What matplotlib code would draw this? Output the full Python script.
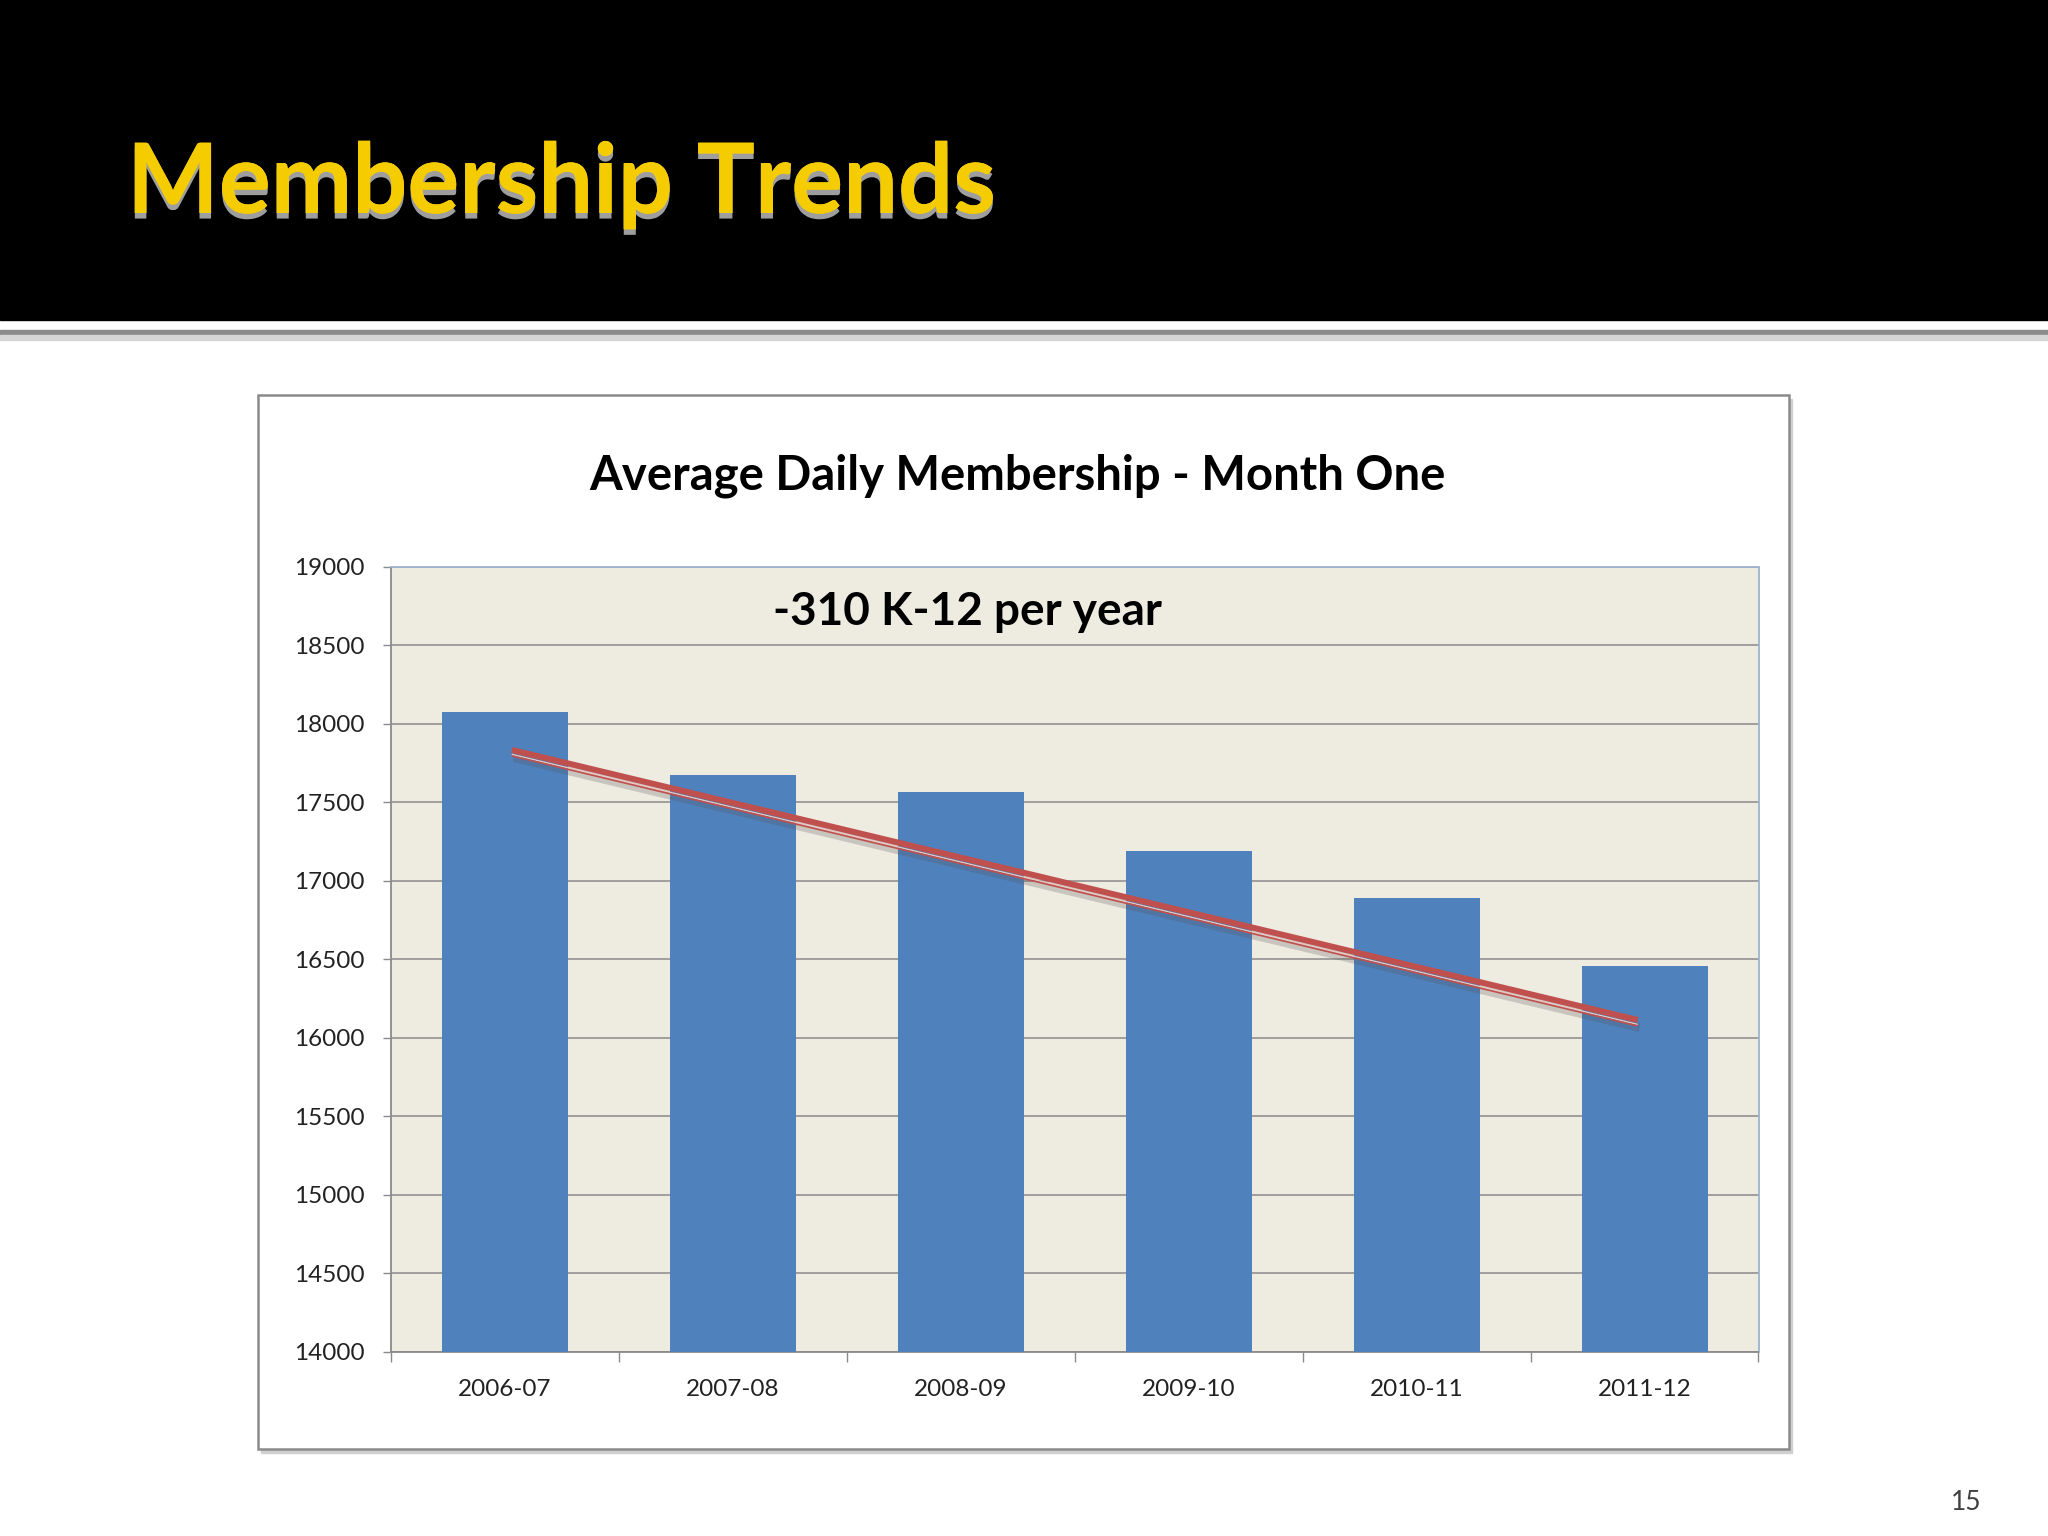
import matplotlib
matplotlib.use('Agg')
import matplotlib.pyplot as plt
import matplotlib.patches as patches
import matplotlib.patheffects as pe
from matplotlib.transforms import offset_copy
import numpy as np

plt.rcParams['font.family'] = ['Lato', 'DejaVu Sans']

# data
years = ['2006-07', '2007-08', '2008-09', '2009-10', '2010-11', '2011-12']
membership = [18076, 17676, 17568, 17186, 16887, 16457]
trend_x = [0.03, 4.97]
trend_y = [17833, 16113]
y_ticks = list(range(14000, 19001, 500))

slide_title = 'Membership Trends'
chart_title = 'Average Daily Membership - Month One'
trend_note = '-310 K-12 per year'
page_no = '15'

W, H = 2048, 1536
fig = plt.figure(figsize=(W / 100, H / 100), dpi=100)

# background layer in pixel coordinates
bg = fig.add_axes([0, 0, 1, 1], zorder=0)
bg.set_xlim(0, W)
bg.set_ylim(H, 0)
bg.axis('off')

bg.add_patch(patches.Rectangle((0, 0), W, 320, color='black'))
bg.add_patch(patches.Rectangle((0, 330), W, 5, color='#8c8c8c'))
bg.add_patch(patches.Rectangle((0, 335), W, 5, color='#d6d6d6'))

bg.text(127, 213, slide_title, color='#F5CC00', fontsize=70, fontweight='bold',
        va='baseline', ha='left',
        path_effects=[pe.withSimplePatchShadow(offset=(0, -4), shadow_rgbFace='#b0b0b0', alpha=0.9),
                      pe.Normal()])

# chart frame with light shadow
bg.add_patch(patches.Rectangle((261, 399), 1531, 1054, color='#cfcfcf'))
bg.add_patch(patches.Rectangle((258, 395), 1531, 1054, facecolor='white',
                               edgecolor='#8a8a8a', linewidth=1.8))

bg.text(1017, 490, chart_title, fontsize=34, fontweight='bold', color='black',
        ha='center', va='baseline')

bg.text(1966, 1510, page_no, fontsize=19, color='#404040', ha='center', va='baseline')

# plot area
ax = fig.add_axes([391 / W, 1 - 1351.7 / H, (1758.5 - 391) / W, (1351.7 - 566.7) / H], zorder=2)
ax.set_facecolor('#EEEBE1')

x = np.arange(len(years))
ax.bar(x, membership, width=0.553, color='#4F81BD', zorder=3)

ax.set_xlim(-0.5, len(years) - 0.5)
ax.set_ylim(14000, 19000)
ax.set_yticks(y_ticks)
ax.set_yticklabels([str(v) for v in y_ticks], fontsize=17.5, color='#222222')
ax.yaxis.grid(True, color='#8a8a8a', linewidth=1.1, zorder=1)
ax.set_axisbelow(True)

ax.set_xticks(x)
ax.set_xticklabels(years, fontsize=17.5, color='#222222')
ax.set_xticks(np.arange(-0.5, len(years)), minor=True)
ax.tick_params(axis='x', which='major', length=0, pad=20)
ax.tick_params(axis='x', which='minor', length=7, width=1, color='#8a8a8a', direction='out')
ax.tick_params(axis='y', length=6, width=1, color='#8a8a8a', direction='out', pad=13)

for side in ['left', 'bottom']:
    ax.spines[side].set_color('#8a8a8a')
    ax.spines[side].set_linewidth(1.3)
for side in ['top', 'right']:
    ax.spines[side].set_color('#9DB3CF')
    ax.spines[side].set_linewidth(1.3)

# trend line: thick red with a thin double line underneath and soft shadow
shadow_tr = offset_copy(ax.transData, fig=fig, x=1.5, y=-5.5, units='points')
ax.plot(trend_x, trend_y, color='#555555', alpha=0.25, linewidth=6.5,
        solid_capstyle='butt', transform=shadow_tr, zorder=4)
ax.plot(trend_x, trend_y, color='#C0504D', linewidth=4.3, solid_capstyle='butt', zorder=5)
low1 = offset_copy(ax.transData, fig=fig, x=0, y=-3.2, units='points')
ax.plot(trend_x, trend_y, color='#E8C9C6', linewidth=1.0, solid_capstyle='butt',
        transform=low1, zorder=5)
low2 = offset_copy(ax.transData, fig=fig, x=0, y=-4.3, units='points')
ax.plot(trend_x, trend_y, color='#C0504D', linewidth=1.2, solid_capstyle='butt',
        transform=low2, zorder=5)

bg2 = fig.add_axes([0, 0, 1, 1], zorder=3)
bg2.set_xlim(0, W)
bg2.set_ylim(H, 0)
bg2.axis('off')
bg2.text(967, 625, trend_note, fontsize=33, fontweight='bold', color='black',
         ha='center', va='baseline')

fig.savefig('out.png', dpi=100)
